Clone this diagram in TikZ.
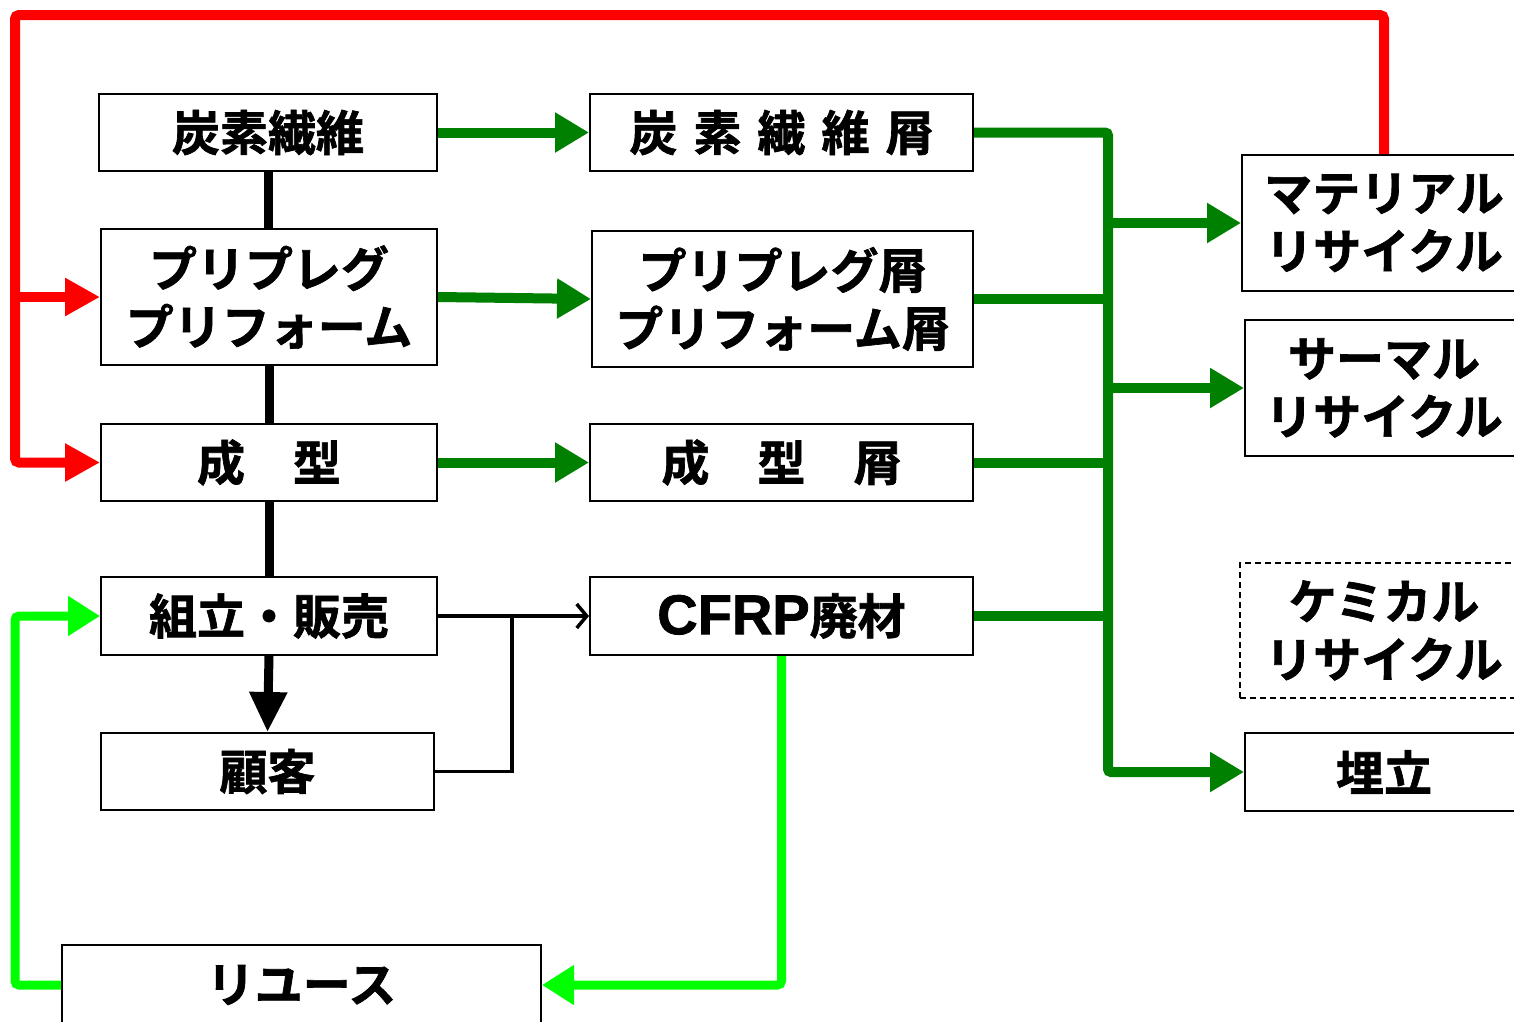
\documentclass[tikz,border=0pt]{standalone}
\usepackage{fontspec}
\setmainfont{Noto Sans CJK JP}[UprightFont={* Bold},FakeBold=1.4]
\newfontfamily\latfont{Liberation Sans}[UprightFont={* Bold},FakeBold=1.4]
\usetikzlibrary{arrows.meta}
\definecolor{dg}{RGB}{0,128,0}
\definecolor{lg}{RGB}{0,255,0}
\definecolor{rd}{RGB}{255,0,0}
\tikzset{
  box/.style={draw, line width=2pt, fill=white, inner sep=0pt, align=center,
    font=\fontsize{48pt}{58pt}\selectfont},
  gline/.style={dg, line width=10pt},
  garrow/.style={gline, -{Triangle[length=34pt,width=38pt]}},
  rline/.style={rd, line width=10pt},
  rarrow/.style={rline, -{Triangle[length=35pt,width=36pt]}},
  lgline/.style={lg, line width=9pt},
  lgarrow/.style={lgline, -{Triangle[length=32pt,width=38pt]}},
  bline/.style={black, line width=9pt},
  tline/.style={black, line width=3.5pt},
}
\begin{document}
\begin{tikzpicture}[x=1pt,y=-1pt]
\clip (0,0) rectangle (1514,1021);
\fill[white] (0,0) rectangle (1514,1021);
% left column
\node[box, minimum width=338pt, minimum height=77pt] (cf) at (268,132.5) {炭素繊維};
\node[box, minimum width=336pt, minimum height=136pt] (pp) at (269,297) {プリプレグ\\プリフォーム};
\node[box, minimum width=336pt, minimum height=77pt] (mold) at (269,462.5) {成　型};
\node[box, minimum width=336pt, minimum height=78pt] (assy) at (269,616) {組立・販売};
\node[box, minimum width=333pt, minimum height=77pt] (cust) at (267.5,771.5) {顧客};
\node[box, minimum width=479pt, minimum height=80pt] (reuse) at (301.5,985) {リユース};
% middle column
\node[box, minimum width=383pt, minimum height=77pt] (cfs) at (781.5,132.5) {炭\hspace{16pt}素\hspace{16pt}繊\hspace{16pt}維\hspace{16pt}屑};
\node[box, minimum width=381pt, minimum height=136pt] (pps) at (782.5,299) {プリプレグ屑\\プリフォーム屑};
\node[box, minimum width=383pt, minimum height=77pt] (molds) at (781.5,462.5) {成　型　屑};
\node[box, minimum width=383pt, minimum height=78pt] (cfrp) at (781.5,616) {{\latfont\fontsize{56pt}{58pt}\selectfont CFRP}廃材};
% right column
\node[box, minimum width=284pt, minimum height=136pt] (mat) at (1384,223) {マテリアル\\リサイクル};
\node[box, minimum width=278pt, minimum height=136pt] (therm) at (1384,388) {サーマル\\リサイクル};
\node[box, dashed, dash pattern=on 6pt off 4pt, minimum width=288pt, minimum height=135pt] (chem) at (1384,630.5) {ケミカル\\リサイクル};
\node[box, minimum width=278pt, minimum height=78pt] (land) at (1384,772) {埋立};
% coordinates
\coordinate (bt) at (1108,132.5);
\coordinate (rl) at (15,15);
\coordinate (ll) at (15,985);
\coordinate (jn) at (512,616);
% black main flow
\draw[bline] (cf.south) -- (cf.south |- pp.north);
\draw[bline] (pp.south) -- (mold.north);
\draw[bline] (mold.south) -- (assy.north);
\draw[bline, -{Triangle[length=40pt,width=36pt]}] (assy.south) -- (cust.north);
% green to scraps
\draw[garrow] (cf.east) -- (cfs.west);
\draw[garrow] (pp.east) -- (pps.west);
\draw[garrow] (mold.east) -- (molds.west);
% green bus
\draw[garrow, rounded corners=3pt] (cfs.east) -- (bt) |- (land.west);
\draw[garrow] (bt |- mat.west) -- (mat.west);
\draw[garrow] (bt |- therm.west) -- (therm.west);
\draw[gline] (pps.east) -- (bt |- pps.east);
\draw[gline] (molds.east) -- (bt |- molds.east);
\draw[gline] (cfrp.east) -- (bt |- cfrp.east);
% red recycle loop
\draw[rarrow, rounded corners=4pt] (mat.north) |- (rl) |- (mold.west);
\draw[rarrow] (rl |- pp.west) -- (pp.west);
% light green reuse loop
\draw[lgarrow, rounded corners=4pt] (cfrp.south) |- (reuse.east);
\draw[lgarrow, rounded corners=4pt] (reuse.west) -| (ll |- assy.west) -- (assy.west);
% thin black
\draw[tline, -{Straight Barb[length=10pt,width=24pt,line width=3.5pt]}] (assy.east) -- (cfrp.west);
\draw[tline] (cust.east) -| (jn);
\end{tikzpicture}
\end{document}
